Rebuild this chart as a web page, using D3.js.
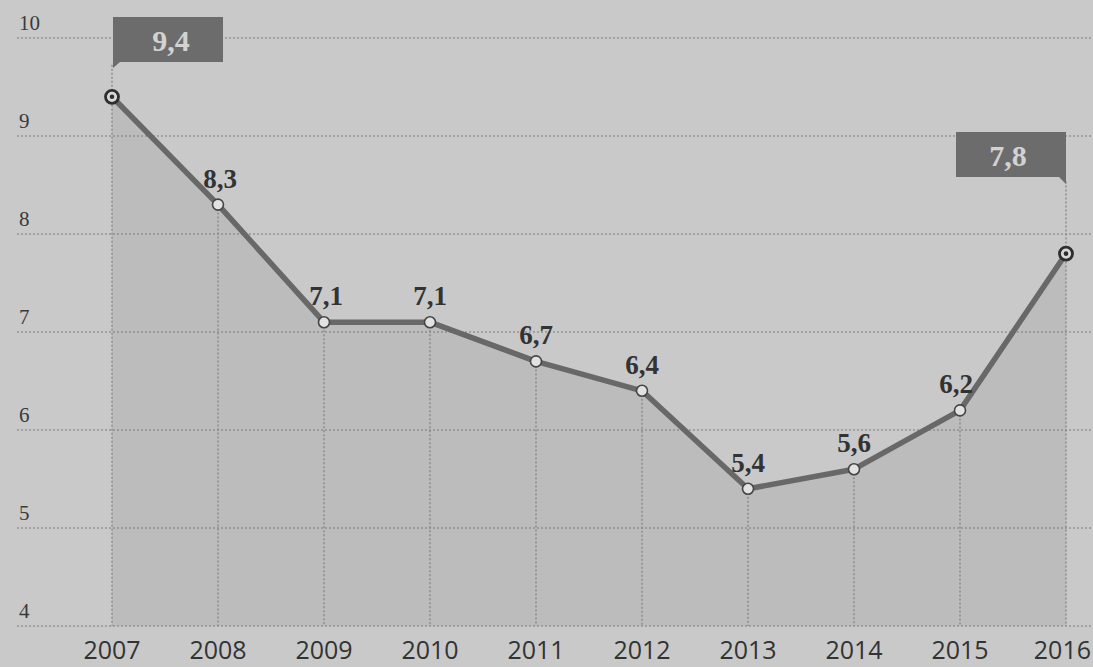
<!DOCTYPE html>
<html><head><meta charset="utf-8">
<script src="https://cdn.jsdelivr.net/npm/d3@7"></script>
<style>
html,body{margin:0;padding:0;background:#c9c9c9;}
svg{display:block;}
</style></head>
<body>
<svg id="chart" width="1093" height="667"></svg>
<script>
const years = ["2007","2008","2009","2010","2011","2012","2013","2014","2015","2016"];
const values = [9.4, 8.3, 7.1, 7.1, 6.7, 6.4, 5.4, 5.6, 6.2, 7.8];
const labels = ["9,4","8,3","7,1","7,1","6,7","6,4","5,4","5,6","6,2","7,8"];
const yTicks = [4,5,6,7,8,9,10];

const W = 1093, H = 667;
const SERIF = "Liberation Serif, DejaVu Serif, serif";
const svg = d3.select("#chart");
svg.append("rect").attr("width", W).attr("height", H).attr("fill", "#c9c9c9");

const x = d3.scalePoint().domain(years).range([112, 1066]);
const y = d3.scaleLinear().domain([4, 10]).range([626, 38]);

const data = years.map((yr, i) => ({yr, v: values[i], lab: labels[i]}));
const curve = d3.curveLinear;

// area
svg.append("path")
  .datum(data)
  .attr("d", d3.area().x(d => x(d.yr)).y0(y(4)).y1(d => y(d.v)).curve(curve))
  .attr("fill", "#bcbcbc");

// horizontal gridlines
svg.append("g").selectAll("line").data(yTicks).join("line")
  .attr("x1", 17).attr("x2", W)
  .attr("y1", d => y(d)).attr("y2", d => y(d))
  .attr("stroke", "#7a7a7a").attr("stroke-width", 1.2)
  .attr("stroke-dasharray", "2,2");

// y tick labels
svg.append("g").selectAll("text").data(yTicks).join("text")
  .attr("x", 19).attr("y", d => y(d) - 8)
  .attr("font-family", SERIF)
  .attr("font-size", 21).attr("fill", "#3a3a3a")
  .text(d => d);

// vertical dotted lines
svg.append("g").selectAll("line").data(data).join("line")
  .attr("x1", d => x(d.yr)).attr("x2", d => x(d.yr))
  .attr("y1", (d, i) => (i === 0 ? y(d.v) - 32 : (i === data.length - 1 ? y(d.v) - 72 : y(d.v)))).attr("y2", y(4))
  .attr("stroke", "#808080").attr("stroke-width", 1.2)
  .attr("stroke-dasharray", "2,2");

// line
svg.append("path")
  .datum(data)
  .attr("d", d3.line().x(d => x(d.yr)).y(d => y(d.v)).curve(curve))
  .attr("fill", "none").attr("stroke", "#686868").attr("stroke-width", 5.5)
  .attr("stroke-linejoin", "round");

// markers
const mid = data.slice(1, -1);
svg.append("g").selectAll("circle").data(mid).join("circle")
  .attr("cx", d => x(d.yr)).attr("cy", d => y(d.v)).attr("r", 5.5)
  .attr("fill", "#e2e2e2").attr("stroke", "#454545").attr("stroke-width", 1.6);

const ends = [data[0], data[data.length - 1]];
const eg = svg.append("g").selectAll("g").data(ends).join("g")
  .attr("transform", d => `translate(${x(d.yr)},${y(d.v)})`);
eg.append("circle").attr("r", 6.5).attr("fill", "#d8d8d8").attr("stroke", "#2e2e2e").attr("stroke-width", 2.8);
eg.append("circle").attr("r", 2.3).attr("fill", "#2e2e2e");

// value labels
const dx = [0, 2, 2, 0, 0, 0, 0, 0, -4, 0];
svg.append("g").selectAll("text").data(mid).join("text")
  .attr("x", d => x(d.yr) + dx[years.indexOf(d.yr)]).attr("y", d => y(d.v) - 17)
  .attr("text-anchor", "middle")
  .attr("font-family", SERIF)
  .attr("font-weight", "bold")
  .attr("font-size", 27).attr("fill", "#333")
  .text(d => d.lab);

// callouts
function callout(d, side, top) {
  const px = x(d.yr);
  const w = 110, h = 45;
  const g = svg.append("g");
  let x0, pathD;
  if (side === "right") {
    x0 = px - w;
    pathD = `M${x0},${top} H${px} V${top + h + 7} L${px - 7},${top + h} H${x0} Z`;
  } else {
    x0 = px + 1;
    pathD = `M${x0},${top} H${x0 + w} V${top + h} H${x0 + 7} L${x0},${top + h + 6} Z`;
  }
  g.append("path").attr("d", pathD).attr("fill", "#6c6c6c");
  g.append("text").attr("x", x0 + w / 2 + (side === "right" ? -3 : 3)).attr("y", top + 34)
    .attr("text-anchor", "middle")
    .attr("font-family", SERIF)
    .attr("font-weight", "bold").attr("font-size", 30).attr("fill", "#d2d2d2")
    .text(d.lab);
}
callout(data[0], "left", 17);
callout(data[data.length - 1], "right", 132);

// x axis labels
svg.append("g").selectAll("text").data(years).join("text")
  .attr("x", (d, i) => i === years.length - 1 ? W - 2 : x(d))
  .attr("y", 659)
  .attr("text-anchor", (d, i) => i === years.length - 1 ? "end" : "middle")
  .attr("font-family", "Open Sans, Noto Sans, sans-serif")
  .attr("font-size", 25).attr("fill", "#333")
  .text(d => d);
</script>
</body></html>
